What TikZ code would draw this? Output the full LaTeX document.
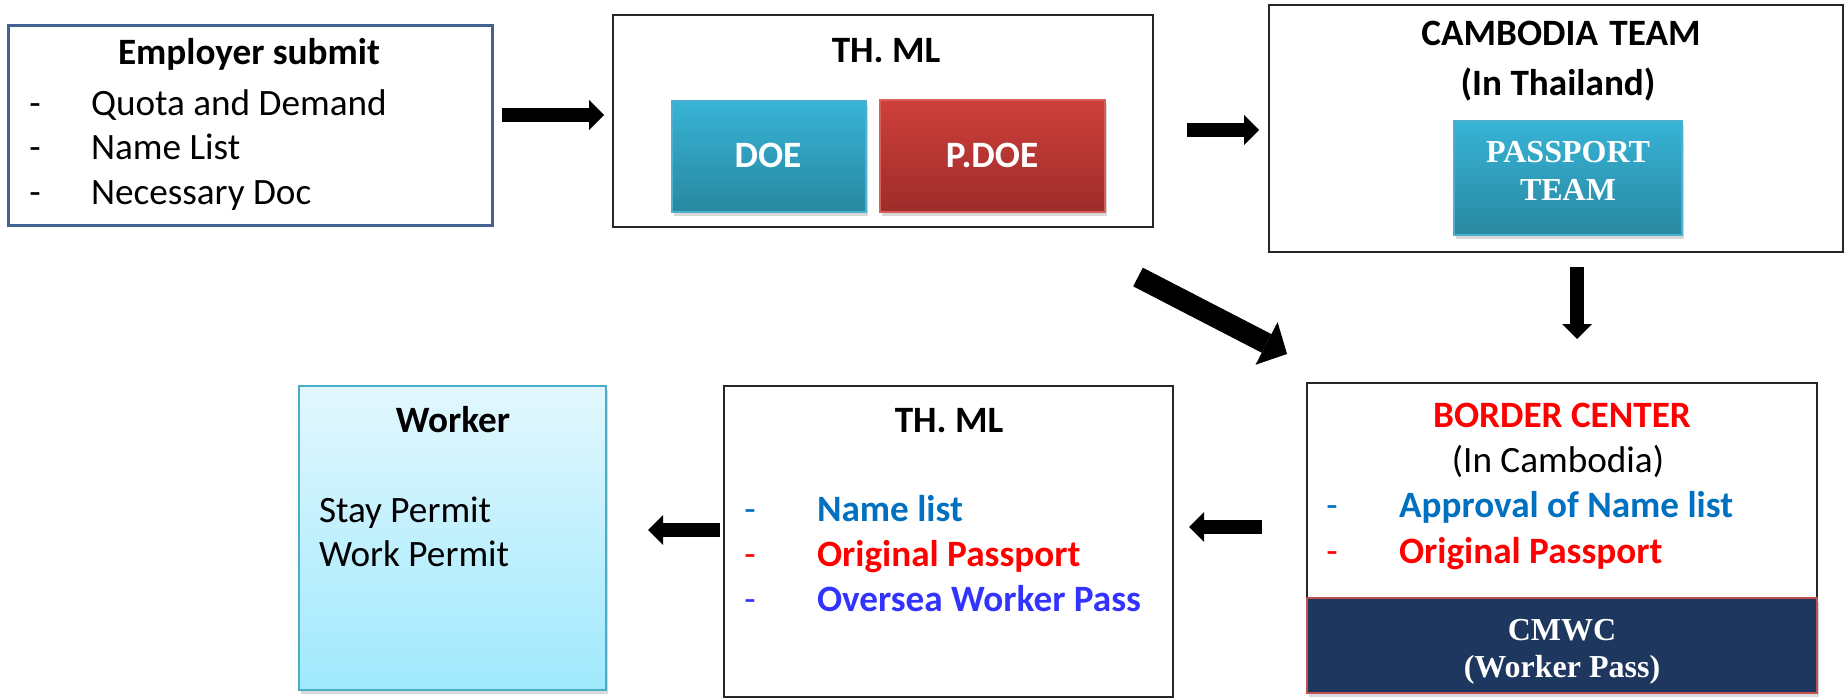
\documentclass[tikz,border=0pt]{standalone}
\usepackage{fontspec}
\setmainfont{Carlito}
\newfontfamily\tms{Liberation Serif}
\usetikzlibrary{arrows.meta,shadows,calc}
\definecolor{empb}{RGB}{66,99,143}
\definecolor{doetop}{RGB}{56,179,214}
\definecolor{doebot}{RGB}{40,136,160}
\definecolor{doeline}{RGB}{75,175,205}
\definecolor{pdtop}{RGB}{206,63,58}
\definecolor{pdbot}{RGB}{158,44,42}
\definecolor{pdline}{RGB}{215,95,90}
\definecolor{wtop}{RGB}{226,247,253}
\definecolor{wbot}{RGB}{160,233,253}
\definecolor{wline}{RGB}{75,172,198}
\definecolor{navy}{RGB}{29,55,94}
\definecolor{navyline}{RGB}{192,80,77}
\definecolor{nblue}{RGB}{0,112,192}
\definecolor{pblue}{RGB}{51,51,255}
\definecolor{pred}{RGB}{255,0,0}
\begin{document}
\begin{tikzpicture}[x=0.5pt,y=-0.5pt,
  every node/.style={inner sep=0pt, outer sep=0pt},
  frame/.style={draw=black!85, line width=1pt, fill=white},
  shad/.style={drop shadow={opacity=0.3, shadow xshift=0.8pt, shadow yshift=-2pt}},
  txt/.style={font=\fontsize{18.6}{22}\selectfont},
  btxt/.style={font=\bfseries\fontsize{18.6}{22}\selectfont},
  ser/.style={font=\tms\bfseries\fontsize{16}{19}\selectfont, text=white},
  blk/.style={line width=7pt, -{Triangle[length=7.5pt,width=15pt,line width=0pt]}},
  bigblk/.style={line width=10.5pt, -{Triangle[length=11.5pt,width=24pt,line width=0pt]}}
]
\useasboundingbox (0,0) rectangle (1845,700);

% ---------- top row ----------
\node[draw=empb, line width=1.5pt, fill=white, minimum width=242pt, minimum height=100pt] (emp) at (250,126) {};
\node[btxt, anchor=base] (empT) at (249,65) {Employer submit};
\node[txt, anchor=base] (empd1) at (35,116) {-};
\node[txt, anchor=base] (empd2) at (35,160) {-};
\node[txt, anchor=base] (empd3) at (35,205) {-};
\node[txt, anchor=base west] (emp1) at (91,116) {Quota and Demand};
\node[txt, anchor=base west] (emp2) at (91,160) {Name List};
\node[txt, anchor=base west] (emp3) at (91,205) {Necessary Doc};

\node[frame, minimum width=270pt, minimum height=106pt] (thml1) at (883,121) {};
\node[btxt, anchor=base] (thml1T) at (886,63) {TH. ML};
\node[shad, draw=doeline, line width=0.6pt, top color=doetop, bottom color=doebot,
      minimum width=97pt, minimum height=55.5pt] (doe) at (769,156.5) {};
\node[btxt, text=white, anchor=base] (doeT) at (768,168) {DOE};
\node[shad, draw=pdline, line width=0.6pt, top color=pdtop, bottom color=pdbot,
      minimum width=112.5pt, minimum height=56pt] (pdoe) at (992.5,156) {};
\node[btxt, text=white, anchor=base] (pdoeT) at (992,168) {P.DOE};

\node[frame, minimum width=287pt, minimum height=123.5pt] (camb) at (1556,128.5) {};
\node[btxt, anchor=base] (cambT) at (1561,46) {CAMBODIA\hspace{0.08em} TEAM};
\node[btxt, anchor=base] (cambS) at (1558,96) {(In Thailand)};
\node[shad, draw=doeline, line width=0.6pt, top color=doetop, bottom color=doebot,
      minimum width=114pt, minimum height=57pt] (pass) at (1568,178) {};
\node[ser, anchor=base] (pass1) at (1568,163) {PASSPORT};
\node[ser, anchor=base] (pass2) at (1568,201) {TEAM};

% ---------- bottom row ----------
\node[shad, draw=wline, line width=1pt, top color=wtop, bottom color=wbot,
      minimum width=153.5pt, minimum height=152pt] (worker) at (452.5,538) {};
\node[btxt, anchor=base] (workerT) at (453,432) {Worker};
\node[txt, anchor=base west] (w1) at (319,522) {Stay Permit};
\node[txt, anchor=base west] (w2) at (319,566) {Work Permit};

\node[frame, minimum width=224.5pt, minimum height=155.5pt] (thml2) at (948.5,541.5) {};
\node[btxt, anchor=base] (thml2T) at (949,432) {TH. ML};
\node[txt, text=nblue, anchor=base] (t2d1) at (750,521) {-};
\node[txt, text=pred, anchor=base] (t2d2) at (750,566) {-};
\node[txt, text=pblue, anchor=base] (t2d3) at (750,611) {-};
\node[btxt, text=nblue, anchor=base west] (t21) at (817,521) {Name list};
\node[btxt, text=pred, anchor=base west] (t22) at (817,566) {Original Passport};
\node[btxt, text=pblue, anchor=base west] (t23) at (817,611) {Oversea Worker Pass};

\node[frame, minimum width=255pt, minimum height=155pt] (border) at (1562,538) {};
\node[btxt, text=pred, anchor=base] (borderT) at (1562,427) {BORDER CENTER};
\node[txt, anchor=base] (borderS) at (1558,472) {(In Cambodia)};
\node[txt, text=nblue, anchor=base] (bd1) at (1332,517) {-};
\node[txt, text=pred, anchor=base] (bd2) at (1332,563) {-};
\node[btxt, text=nblue, anchor=base west] (b1) at (1399,517) {Approval of Name list};
\node[btxt, text=pred, anchor=base west] (b2) at (1399,563) {Original Passport};
\node[shad, draw=navyline, line width=0.8pt, fill=navy,
      minimum width=255pt, minimum height=47.5pt] (cmwc) at (1562,645.5) {};
\node[ser, anchor=base] (cmwc1) at (1562,640) {CMWC};
\node[ser, anchor=base] (cmwc2) at (1562,677) {(Worker Pass)};

% ---------- arrows ----------
\draw[blk] ($(emp.east)+(10,-11)$) -- ($(thml1.west)+(-9,-6)$);
\draw[blk] ($(thml1.east)+(34,9)$) -- ($(camb.west)+(-10,1.5)$);
\draw[blk] ($(camb.south)+(21,15)$) -- ($(border.north)+(15,-44)$);
\draw[bigblk] ($(thml1.south east)+(-15,50)$) -- ($(border.north west)+(-20,-29)$);
\draw[blk] ($(border.west)+(-45,-11)$) -- ($(thml2.east)+(16,-14.5)$);
\draw[blk] ($(thml2.west)+(-4,-11.5)$) -- ($(worker.east)+(42,-8)$);
\end{tikzpicture}
\end{document}
